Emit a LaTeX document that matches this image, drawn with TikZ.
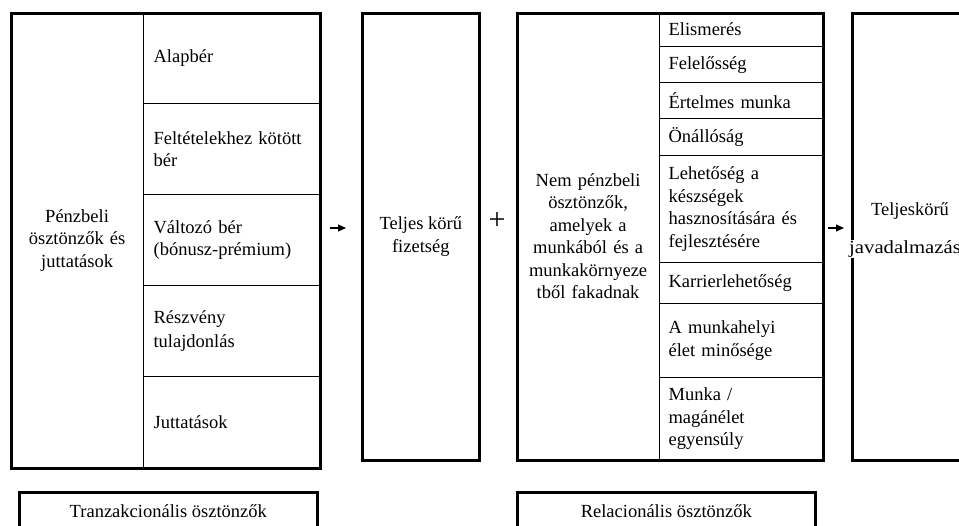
\documentclass[tikz,border=0pt]{standalone}
\usepackage{fontspec}
\setmainfont{Liberation Serif}
\usetikzlibrary{arrows.meta}

\tikzset{
  frame/.style={draw, line width=2.6pt, anchor=north west, inner sep=0pt},
  cell/.style={draw, line width=1.2pt, anchor=north west, align=left, inner xsep=10pt, inner ysep=0pt},
  arr/.style={line width=1.1pt, -{Triangle[length=8pt,width=7pt]}},
}

\begin{document}
\begin{tikzpicture}[x=1pt, y=-1pt, font=\fontsize{18.5}{22.5}\selectfont]
\clip (0,0) rectangle (959,526);

\node[cell, align=center, text width=113pt, minimum width=133pt, minimum height=455pt] (p0) at (10,12) {Pénzbeli\\ösztönzők és\\juttatások};
\node[cell, text width=156pt, minimum width=176pt, minimum height=91pt] (p1) at (143,12) {Alapbér};
\node[cell, text width=156pt, minimum width=176pt, minimum height=91pt] (p2) at (143,103) {Feltételekhez kötött\\bér};
\node[cell, text width=156pt, minimum width=176pt, minimum height=91pt] (p3) at (143,194) {Változó bér\\(bónusz-prémium)};
\node[cell, text width=156pt, minimum width=176pt, minimum height=91pt] (p4) at (143,285) {Részvény\\[2pt]tulajdonlás};
\node[cell, text width=156pt, minimum width=176pt, minimum height=91pt] (p5) at (143,376) {Juttatások};
\node[frame, minimum width=309pt, minimum height=455pt] (pf) at (10,12) {};

\node[frame, align=center, minimum width=117pt, minimum height=447pt] (fiz) at (361,12) {Teljes körű\\fizetség};

\node (plus) at (497,221) {\fontsize{30}{30}\selectfont +};

\node[cell, align=center, text width=125pt, inner xsep=9pt, minimum width=143pt, minimum height=447pt] (n0) at (516,12) {Nem pénzbeli\\ösztönzők,\\amelyek a\\munkából és a\\munkakörnyeze\\tből fakadnak};
\node[cell, text width=145pt, inner xsep=9pt, minimum width=163pt, minimum height=34pt] (n1) at (659,12) {Elismerés};
\node[cell, text width=145pt, inner xsep=9pt, minimum width=163pt, minimum height=36pt] (n2) at (659,46) {Felelősség};
\node[cell, text width=145pt, inner xsep=9pt, minimum width=163pt, minimum height=36pt] (n3) at (659,82) {Értelmes munka};
\node[cell, text width=145pt, inner xsep=9pt, minimum width=163pt, minimum height=37pt] (n4) at (659,118) {Önállóság};
\node[cell, text width=145pt, inner xsep=9pt, minimum width=163pt, minimum height=107pt] (n5) at (659,155) {Lehetőség a\\készségek\\hasznosítására és\\fejlesztésére};
\node[cell, text width=145pt, inner xsep=9pt, minimum width=163pt, minimum height=41pt] (n6) at (659,262) {Karrierlehetőség};
\node[cell, text width=145pt, inner xsep=9pt, minimum width=163pt, minimum height=74pt] (n7) at (659,303) {A munkahelyi\\élet minősége};
\node[cell, text width=145pt, inner xsep=9pt, minimum width=163pt, minimum height=82pt] (n8) at (659,377) {Munka /\\magánélet\\egyensúly};
\node[frame, minimum width=306pt, minimum height=447pt] (nf) at (516,12) {};

\node[frame, minimum width=130pt, minimum height=447pt] (jf) at (851,12) {};
\node (j1) at (910,211) {Teljeskörű};
\node[fill=white, anchor=west, inner sep=1pt] (j2) at (848,249) {\scalebox{1.12}[1]{javadalmazás}};

\coordinate (a1) at (330,228);
\coordinate (b1) at (346,228);
\coordinate (a2) at (828,228);
\coordinate (b2) at (844,228);
\draw[arr] (a1) -- (b1);
\draw[arr] (a2) -- (b2);

\node[frame, anchor=north west, minimum width=298pt, minimum height=38pt] (tr) at (18,491) {Tranzakcionális ösztönzők};
\node[frame, anchor=north west, minimum width=298pt, minimum height=38pt] (rel) at (516,491) {Relacionális ösztönzők};
\end{tikzpicture}
\end{document}
